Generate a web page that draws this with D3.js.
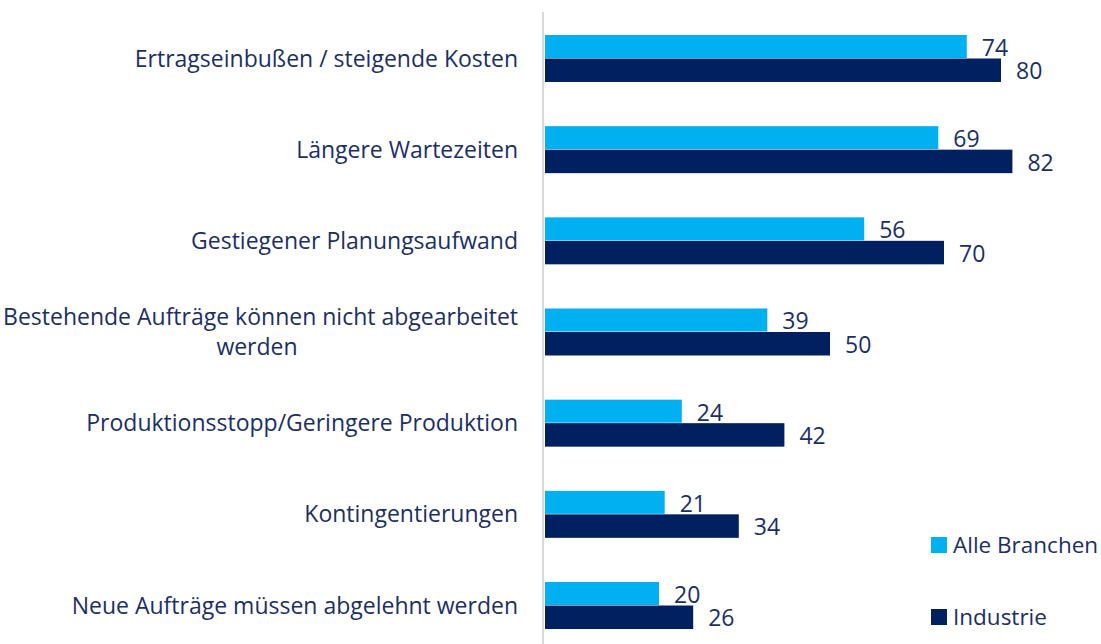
<!DOCTYPE html>
<html>
<head>
<meta charset="utf-8">
<script src="https://cdn.jsdelivr.net/npm/d3@7"></script>
<style>
  body { margin: 0; background: #fff; }
  text { font-family: "Open Sans", sans-serif; fill: #1b2f66; }
</style>
</head>
<body>
<script>
// ----- data -----
const categories = [
  ['Ertragseinbußen / steigende Kosten'],
  ['Längere Wartezeiten'],
  ['Gestiegener Planungsaufwand'],
  ['Bestehende Aufträge können nicht abgearbeitet', 'werden'],
  ['Produktionsstopp/Geringere Produktion'],
  ['Kontingentierungen'],
  ['Neue Aufträge müssen abgelehnt werden']
];
const alleBranchen = [74, 69, 56, 39, 24, 21, 20];
const industrie = [80, 82, 70, 50, 42, 34, 26];
const seriesNames = ['Alle Branchen', 'Industrie'];
const colors = ['#00b0f0', '#002060'];

const W = 1101, H = 644;
const svg = d3.select('body').append('svg')
  .attr('width', W)
  .attr('height', H);

const x = d3.scaleLinear().domain([0, 80]).range([545, 1001]);
const y = d3.scaleBand()
  .domain(d3.range(categories.length))
  .range([12.9, 651.1])
  .paddingInner(0.4845)
  .paddingOuter(0.2423);
const barH = y.bandwidth() / 2;

// axis line
svg.append('line')
  .attr('x1', 543).attr('x2', 543)
  .attr('y1', 12).attr('y2', H)
  .attr('stroke', '#d9d9d9')
  .attr('stroke-width', 2);

// bars
[alleBranchen, industrie].forEach((vals, s) => {
  const g = svg.append('g');
  g.selectAll('rect')
    .data(vals)
    .join('rect')
    .attr('x', x(0))
    .attr('y', (d, i) => y(i) + s * barH)
    .attr('width', d => x(d) - x(0))
    .attr('height', barH - (s === 0 ? 0.5 : 0))
    .attr('fill', colors[s]);

  g.selectAll('text')
    .data(vals)
    .join('text')
    .attr('x', d => x(d) + 15)
    .attr('y', (d, i) => y(i) + s * barH + barH / 2 + 3)
    .attr('dominant-baseline', 'middle')
    .attr('font-size', 23)
    .text(d => d);
});

// category labels
const lab = svg.append('g').selectAll('text')
  .data(categories)
  .join('text')
  .attr('text-anchor', 'end')
  .attr('font-size', 23)
  .attr('x', 518)
  .attr('y', (d, i) => y(i) + y.bandwidth() / 2);

lab.each(function (lines) {
  const t = d3.select(this);
  const n = lines.length;
  lines.forEach((l, k) => {
    t.append('tspan')
      .attr('x', k === 0 ? 518 : 257)
      .attr('text-anchor', k === 0 ? 'end' : 'middle')
      .attr('dy', k === 0 ? (-(n - 1) * 15 + 2) : 30)
      .attr('dominant-baseline', 'middle')
      .text(l);
  });
});

// legend
const leg = svg.append('g').selectAll('g')
  .data(seriesNames)
  .join('g')
  .attr('transform', (d, i) => `translate(931, ${537 + i * 72})`);
leg.append('rect')
  .attr('width', 16).attr('height', 16)
  .attr('fill', (d, i) => colors[i]);
leg.append('text')
  .attr('x', 22).attr('y', 10)
  .attr('dominant-baseline', 'middle')
  .attr('font-size', 22.5)
  .text(d => d);
</script>
</body>
</html>
